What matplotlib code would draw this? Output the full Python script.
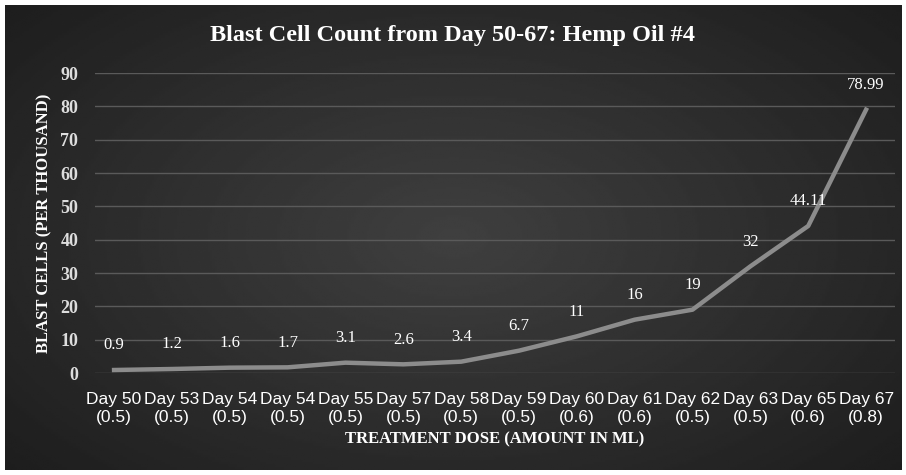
import numpy as np
import matplotlib.pyplot as plt

days = ['Day 50', 'Day 53', 'Day 54', 'Day 54', 'Day 55', 'Day 57', 'Day 58',
        'Day 59', 'Day 60', 'Day 61', 'Day 62', 'Day 63', 'Day 65', 'Day 67']
doses = ['0.5', '0.5', '0.5', '0.5', '0.5', '0.5', '0.5',
         '0.5', '0.6', '0.6', '0.5', '0.5', '0.6', '0.8']
blast = [0.9, 1.2, 1.6, 1.7, 3.1, 2.6, 3.4, 6.7, 11, 16, 19, 32, 44.11, 78.99]
labels = ['0.9', '1.2', '1.6', '1.7', '3.1', '2.6', '3.4', '6.7', '11', '16',
          '19', '32', '44.11', '78.99']

serif = ['Liberation Serif', 'DejaVu Serif']
sans = ['Liberation Sans Narrow', 'Liberation Sans', 'DejaVu Sans']

fig = plt.figure(figsize=(9.06, 4.75), dpi=100)
fig.patch.set_facecolor('white')

# dark radial gradient background inside a thin white frame
bg = fig.add_axes([5 / 906, 5 / 475, 896 / 906, 465 / 475])
yy, xx = np.mgrid[-1:1:200j, -1:1:400j]
r = np.sqrt(xx ** 2 + (yy * 0.9) ** 2)
bg.imshow(0.25 - 0.14 * np.clip(r, 0, 1.4) / 1.4, cmap='gray', vmin=0, vmax=1,
          aspect='auto', extent=[0, 1, 0, 1])
bg.axis('off')

ax = fig.add_axes([95 / 906, (475 - 373) / 475, 800 / 906, 300 / 475])
ax.set_facecolor('none')
x = np.arange(len(blast))
ax.plot(x, blast, color='#8c8c8c', lw=3.2, solid_joinstyle='round', zorder=3)
for xi, yi, lab in zip(x, blast, labels):
    ax.annotate(lab, (xi, yi), xytext=(0, 12), textcoords='offset points',
                ha='center', va='bottom', color='white', fontsize=12,
                family=serif)

ax.set_xlim(-0.33, len(blast) - 0.5)
ax.set_ylim(0, 90)
ax.set_yticks(range(0, 91, 10))
ax.yaxis.grid(True, color='#5a5a5a', lw=1)
ax.set_axisbelow(True)
for s in ax.spines.values():
    s.set_visible(False)
ax.tick_params(length=0, colors='#dddddd')
ax.set_xticks(x)
ax.set_xticklabels([f'{d}\n({v})' for d, v in zip(days, doses)],
                   fontsize=12.5, family=sans, color='white', linespacing=1.25)
for t in ax.get_yticklabels():
    t.set_fontsize(13)
    t.set_family(serif)
    t.set_fontweight('bold')
    t.set_color('#dddddd')
ax.tick_params(axis='x', pad=14)
ax.tick_params(axis='y', pad=12)

ax.set_ylabel('BLAST CELLS (PER THOUSAND)', fontsize=12, fontweight='bold',
              family=serif, color='white', labelpad=6)
ax.set_xlabel('TREATMENT DOSE (AMOUNT IN ML)', fontsize=12, fontweight='bold',
              family=serif, color='white', labelpad=4)
fig.text(0.5, 1 - 35 / 475, 'Blast Cell Count from Day 50-67: Hemp Oil #4',
         ha='center', va='center', fontsize=17.5, fontweight='bold',
         family=serif, color='white')

fig.savefig('out.png', dpi=100, facecolor='white')
